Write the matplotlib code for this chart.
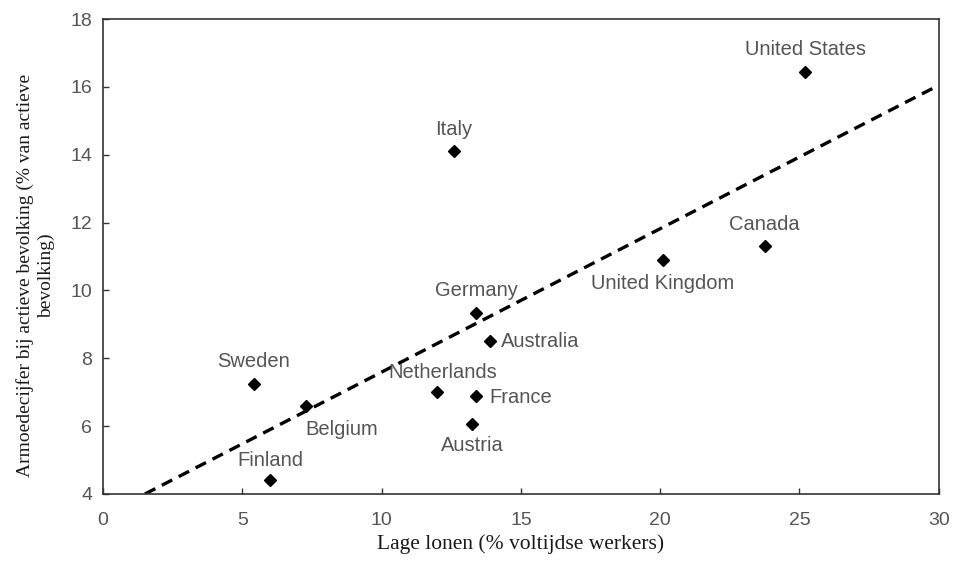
import matplotlib

matplotlib.use("Agg")
import matplotlib.pyplot as plt

# ── Data ──────────────────────────────────────────────────────────────────────
countries = [
    "United States", "Italy", "Canada", "United Kingdom", "Germany",
    "Australia", "Sweden", "Belgium", "Netherlands", "France",
    "Austria", "Finland",
]
low_wages = [25.2, 12.6, 23.75, 20.1, 13.4, 13.9, 5.4, 7.3, 12.0, 13.4, 13.25, 6.0]
poverty = [16.45, 14.1, 11.3, 10.9, 9.35, 8.5, 7.25, 6.6, 7.0, 6.9, 6.05, 4.4]

trend_x = [1.5, 30.0]
trend_y = [4.0, 16.05]

x_ticks = [0, 5, 10, 15, 20, 25, 30]
y_ticks = [4, 6, 8, 10, 12, 14, 16, 18]

# label placement: (dx, dy) in points, horizontal alignment
label_style = {
    "United States": ((0, 16), "center"),
    "Italy": ((0, 16), "center"),
    "Canada": ((0, 16), "center"),
    "United Kingdom": ((0, -17), "center"),
    "Germany": ((0, 16), "center"),
    "Australia": ((8, 0), "left"),
    "Sweden": ((0, 16), "center"),
    "Belgium": ((-1, -17), "left"),
    "Netherlands": ((4, 14), "center"),
    "France": ((9, -1), "left"),
    "Austria": ((0, -15), "center"),
    "Finland": ((0, 14), "center"),
}

# ── Figure ────────────────────────────────────────────────────────────────────
fig = plt.figure(figsize=(9.55, 5.62), dpi=100)
ax = fig.add_axes([0.108, 0.121, 0.875, 0.845])

ax.plot(trend_x, trend_y, color="black", linestyle=(0, (3.5, 2.2)), linewidth=2.4)
ax.plot(low_wages, poverty, linestyle="none", marker="D", markersize=6,
        color="black")

for name, xv, yv in zip(countries, low_wages, poverty):
    offset, ha = label_style[name]
    ax.annotate(name, (xv, yv), xytext=offset, textcoords="offset points",
                ha=ha, va="center", fontsize=14.5, color="#555555",
                family="Liberation Sans")

ax.set_xlim(0, 30)
ax.set_ylim(4, 18)
ax.set_xticks(x_ticks)
ax.set_yticks(y_ticks)
ax.tick_params(direction="in", length=4, width=1, colors="#333333",
               labelsize=14, labelcolor="#555555", pad=8)
ax.tick_params(axis="x", pad=13)
for lbl in ax.get_xticklabels() + ax.get_yticklabels():
    lbl.set_family("Liberation Sans")

for spine in ax.spines.values():
    spine.set_color("#333333")
    spine.set_linewidth(1.2)

ax.set_xlabel("Lage lonen (% voltijdse werkers)", family="Liberation Serif",
              fontsize=15.5, color="#1a1a1a", labelpad=4)
ax.set_ylabel("Armoedecijfer bij actieve bevolking (% van actieve\nbevolking)",
              family="Liberation Serif", fontsize=14, color="#1a1a1a",
              linespacing=1.3)
ax.yaxis.set_label_coords(-0.057, 0.46)

fig.savefig("out.png", dpi=100)
